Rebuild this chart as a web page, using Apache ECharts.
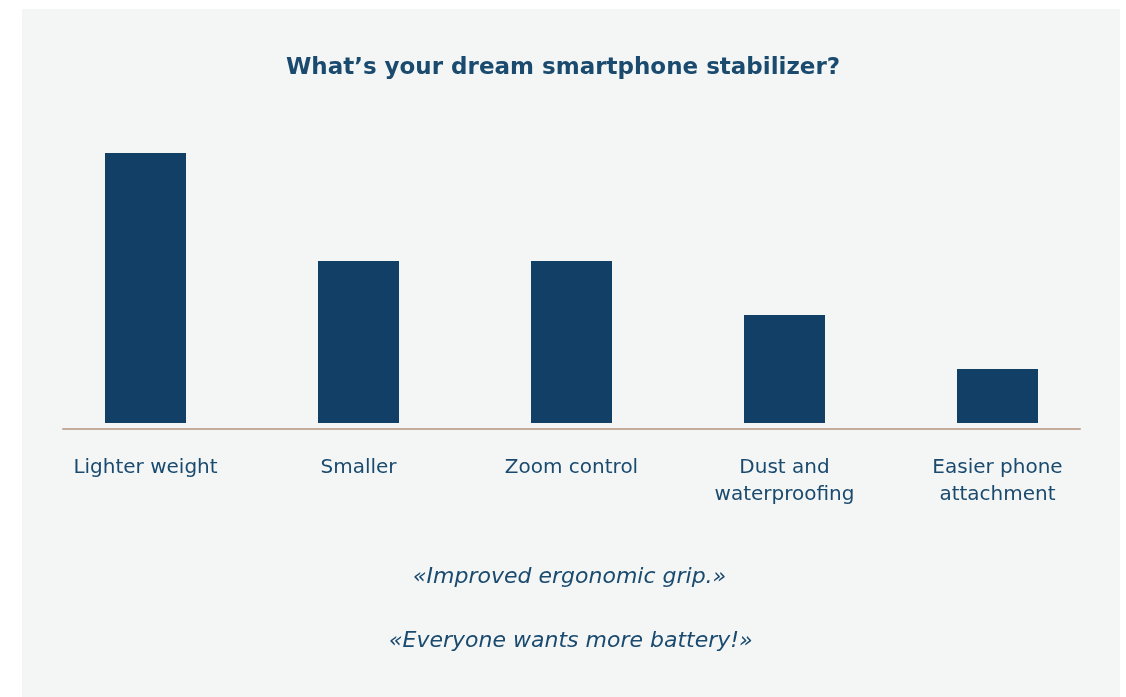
<!DOCTYPE html>
<html>
<head>
<meta charset="utf-8">
<script src="https://cdn.jsdelivr.net/npm/echarts@6/dist/echarts.min.js"></script>
<style>
  html, body { margin: 0; padding: 0; background: #ffffff; }
  .panel { position: absolute; left: 22px; top: 9px; width: 1098px; height: 688px; background: #f4f6f6; }
  #chart { position: absolute; left: 0; top: 0; width: 1126px; height: 697px; }
</style>
</head>
<body>
<div class="panel"></div>
<div id="chart"></div>
<script>
const titleText = 'What\u2019s your dream smartphone stabilizer?';
const categories = ['Lighter weight', 'Smaller', 'Zoom control', 'Dust and\nwaterproofing', 'Easier phone\nattachment'];
const votes = [5, 3, 3, 2, 1];
const quotes = ['\u00abImproved ergonomic grip.\u00bb', '\u00abEveryone wants more battery!\u00bb'];
const quoteLeft = [413, 389];

const ink = '#1a4a6e';
const barColor = '#123f66';
const font = '"DejaVu Sans", "Open Sans", sans-serif';

const chart = echarts.init(document.getElementById('chart'));

chart.setOption({
  backgroundColor: 'transparent',
  animation: false,
  title: [
    {
      text: titleText,
      left: 'center',
      top: 52,
      textStyle: { color: ink, fontFamily: font, fontSize: 23, fontWeight: 'bold' },
    },
    ...quotes.map((q, i) => ({
      text: q,
      left: quoteLeft[i],
      top: 566 + i * 64,
      padding: 0,
      textStyle: { color: ink, fontFamily: font, fontSize: 22, fontStyle: 'italic', fontWeight: 'normal' },
    })),
  ],
  grid: [
    { left: 39, right: 22, top: 153, bottom: 274 },
    // separate grid only to draw the baseline a little below the bars
    { left: 63, right: 46, top: 153, bottom: 268 },
  ],
  xAxis: [
    {
      type: 'category',
      data: categories,
      gridIndex: 0,
      axisLine: { show: false },
      axisTick: { show: false },
      axisLabel: {
        margin: 31,
        color: ink,
        fontFamily: font,
        fontSize: 20,
        lineHeight: 27,
        interval: 0,
      },
    },
    {
      type: 'category',
      data: categories,
      gridIndex: 1,
      axisLine: { lineStyle: { color: '#c4ab9c', width: 2 } },
      axisTick: { show: false },
      axisLabel: { show: false },
    },
  ],
  yAxis: [
    { type: 'value', gridIndex: 0, min: 0, max: 5, show: false },
    { type: 'value', gridIndex: 1, show: false },
  ],
  series: [
    {
      type: 'bar',
      data: votes,
      xAxisIndex: 0,
      yAxisIndex: 0,
      barWidth: 81,
      itemStyle: { color: barColor },
    },
  ],
});
</script>
</body>
</html>
